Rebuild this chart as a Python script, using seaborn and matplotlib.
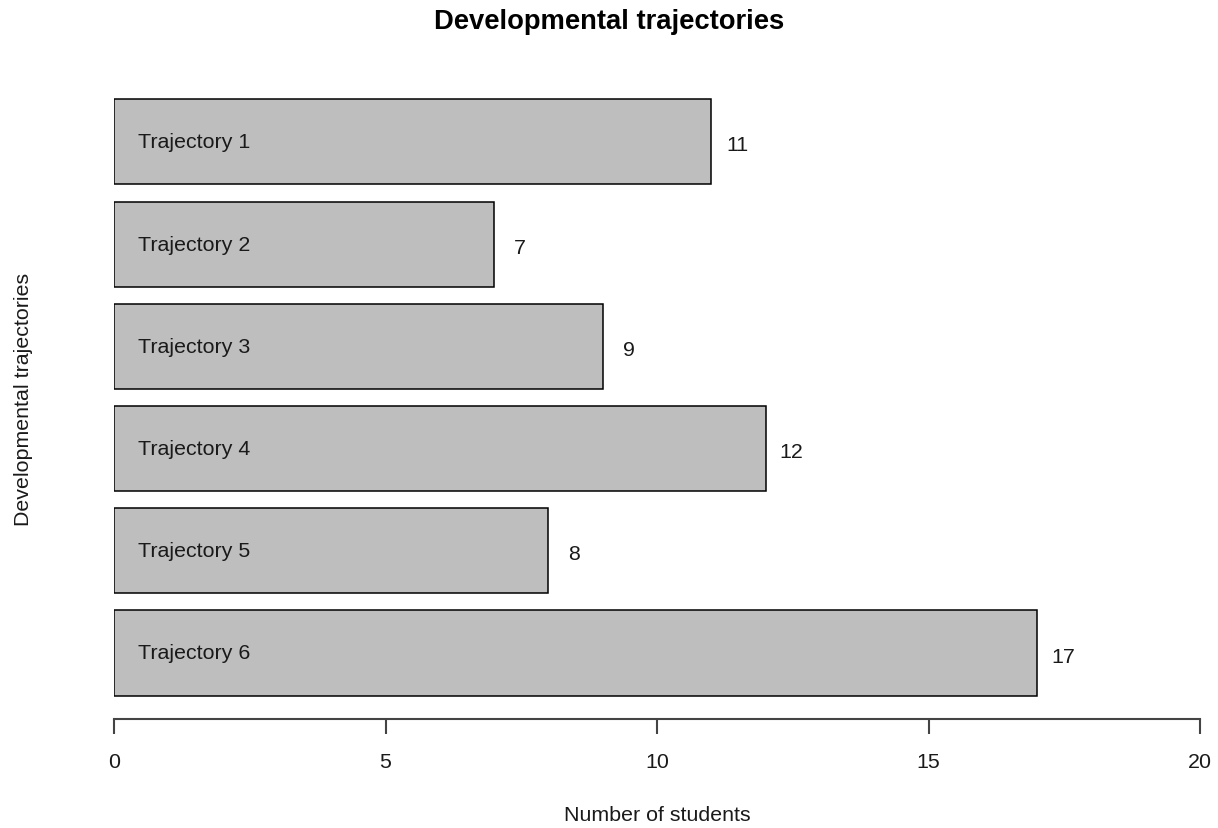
import matplotlib
matplotlib.use("Agg")
import matplotlib.pyplot as plt
import seaborn as sns
import pandas as pd

# data
trajectories = ["Trajectory 1", "Trajectory 2", "Trajectory 3",
                "Trajectory 4", "Trajectory 5", "Trajectory 6"]
students = [11, 7, 9, 12, 8, 17]
x_ticks = [0, 5, 10, 15, 20]

df = pd.DataFrame({"trajectory": trajectories, "students": students})

sns.set_style("white")
plt.rcParams["font.family"] = ["Liberation Sans", "DejaVu Sans"]
txt = "#1a1a1a"

fig = plt.figure(figsize=(12.18, 8.29), dpi=100)
ax = fig.add_axes([114 / 1218, 1 - 720 / 829, (1200 - 114) / 1218, (720 - 78) / 829])

sns.barplot(data=df, x="students", y="trajectory", orient="h", color="#BEBEBE",
            saturation=1, edgecolor="black", linewidth=1.1, width=0.833, ax=ax)

ax.set_xlim(0, 20)
ax.set_ylim(len(trajectories) - 1 + 0.646, -0.635)

# labels inside and next to the bars
for i, (name, v) in enumerate(zip(trajectories, students)):
    ax.text(0.44, i, name, ha="left", va="center", fontsize=15.4, color=txt)
    ax.text(v + 0.48, i + 0.03, str(v), ha="center", va="center", fontsize=15.4, color=txt)

for s in ["top", "right", "left"]:
    ax.spines[s].set_visible(False)
ax.spines["bottom"].set_color("#444444")
ax.spines["bottom"].set_linewidth(1.5)
ax.set_yticks([])
ax.set_xticks(x_ticks)
ax.tick_params(axis="x", bottom=True, length=11, width=1.5, color="#444444",
               labelsize=15.4, labelcolor=txt, pad=13)

ax.set_xlabel("Number of students", fontsize=15.4, color=txt, labelpad=24)
ax.set_ylabel("Developmental trajectories", fontsize=15.4, color=txt, labelpad=58)
fig.suptitle("Developmental trajectories", fontsize=19.7, fontweight="bold", color="black",
             y=1 - 22 / 829, va="center")

fig.savefig("out.png", dpi=100)
